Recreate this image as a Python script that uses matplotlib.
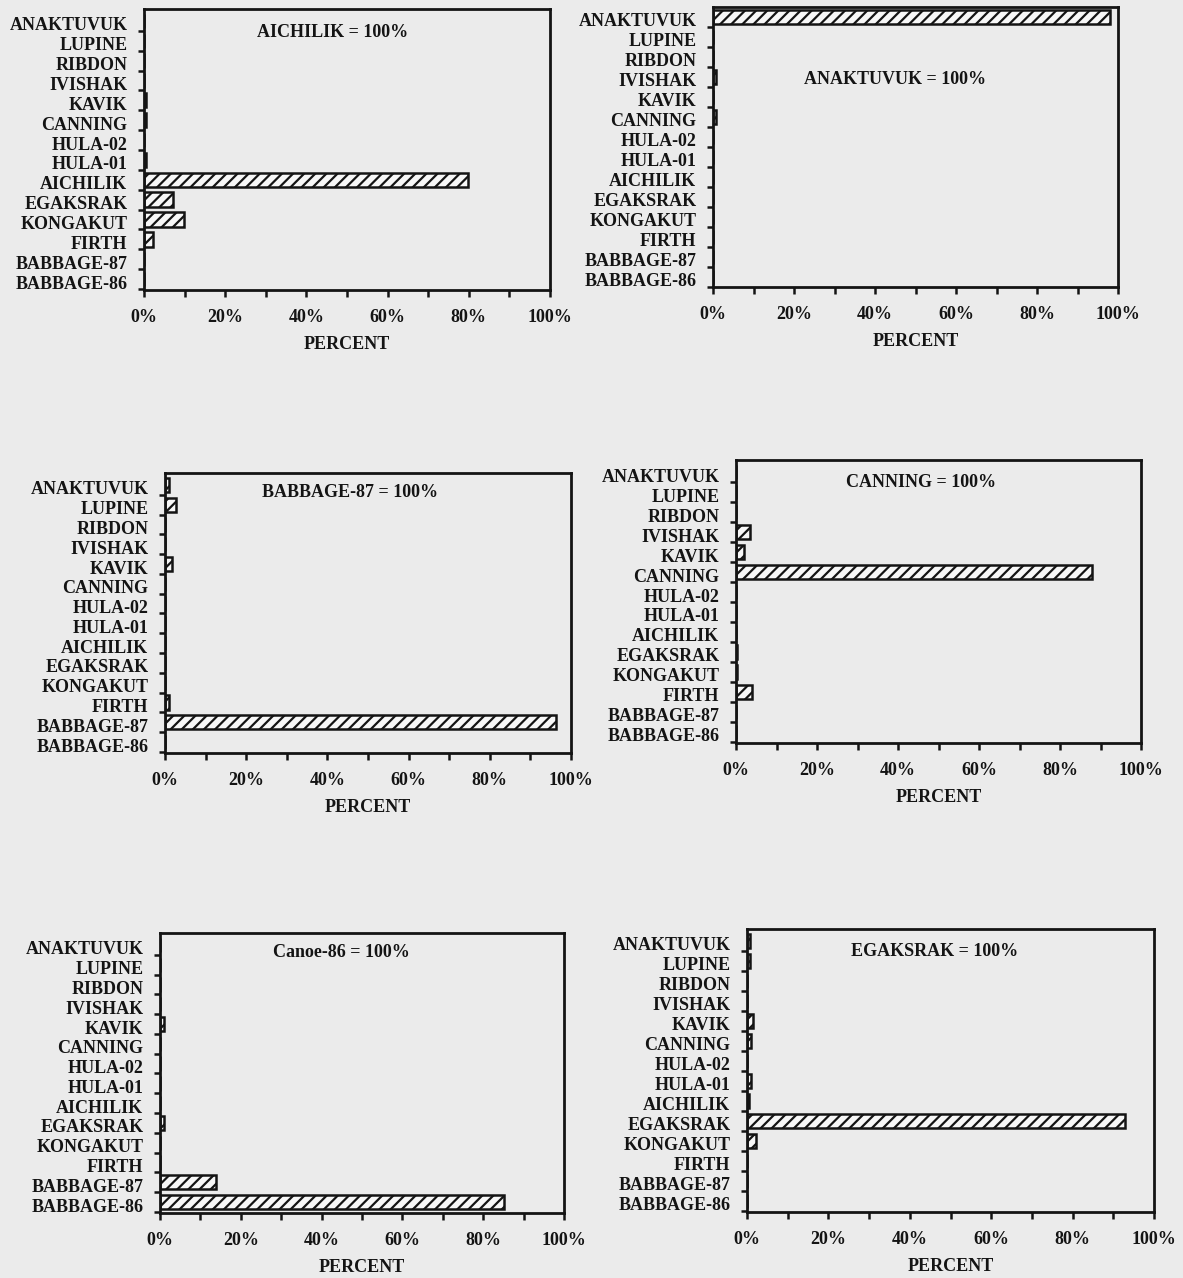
import matplotlib
matplotlib.use("Agg")
import matplotlib.pyplot as plt
import matplotlib.transforms as mtransforms
import numpy as np

# Stations, listed top to bottom on every panel
stations = ["ANAKTUVUK", "LUPINE", "RIBDON", "IVISHAK", "KAVIK", "CANNING",
            "HULA-02", "HULA-01", "AICHILIK", "EGAKSRAK", "KONGAKUT", "FIRTH",
            "BABBAGE-87", "BABBAGE-86"]

# Percent contribution of each station, one list per reference sample
aichilik   = [0, 0, 0, 0, 0.5, 0.5, 0, 0.5, 79.8, 7.1, 9.9, 2.2, 0, 0]
anaktuvuk  = [98.0, 0, 0, 0.8, 0, 0.8, 0, 0, 0, 0, 0, 0, 0, 0]
babbage87  = [1.0, 2.8, 0, 0, 1.8, 0, 0, 0, 0, 0, 0, 0.9, 96.2, 0]
canning    = [0, 0, 0, 3.5, 2.0, 87.9, 0, 0, 0, 0.3, 0.3, 3.9, 0, 0]
canoe86    = [0, 0, 0, 0, 1.0, 0, 0, 0, 0, 1.0, 0, 0, 13.9, 85.1]
egaksrak   = [0.7, 0.8, 0, 0, 1.5, 1.0, 0, 1.0, 0.5, 92.9, 2.3, 0, 0, 0]

titles = ["AICHILIK = 100%", "ANAKTUVUK = 100%", "BABBAGE-87 = 100%",
          "CANNING = 100%", "Canoe-86 = 100%", "EGAKSRAK = 100%"]
series = [aichilik, anaktuvuk, babbage87, canning, canoe86, egaksrak]

xticks = [0, 20, 40, 60, 80, 100]
xticklabels = ["0%", "20%", "40%", "60%", "80%", "100%"]

W, H = 1183, 1278
DPI = 100
BG = "#ebebeb"
INK = "#141414"

plt.rcParams["font.family"] = ["Liberation Serif", "DejaVu Serif"]
plt.rcParams["font.weight"] = "bold"
plt.rcParams["hatch.linewidth"] = 1.6
plt.rcParams["hatch.color"] = INK

fig = plt.figure(figsize=(W / DPI, H / DPI), dpi=DPI, facecolor=BG)

# Panel frames in pixels: left, right, top, bottom
frames = [(144, 550, 9, 290), (713, 1118, 7, 287),
          (165, 571, 473, 753), (736, 1141, 460, 743),
          (160, 564, 933, 1213), (747, 1154, 929, 1212)]
title_pos = [(0.465, 0.918), (0.45, 0.74), (0.456, 0.929),
             (0.457, 0.922), (0.45, 0.929), (0.462, 0.922)]
ylims = [(-0.55, 13.6), (-0.5, 13.5), (-0.55, 13.6),
         (-0.55, 13.6), (-0.55, 13.6), (-0.55, 13.6)]

n = len(stations)
ypos = np.arange(n)[::-1]  # first station at the top

for vals, title, (l, r, t, b), (tx, ty), ylim in zip(series, titles, frames, title_pos, ylims):
    ax = fig.add_axes([l / W, 1 - b / H, (r - l) / W, (b - t) / H])
    ax.set_facecolor(BG)
    ax.barh(ypos, vals, height=0.72, color="#f7f7f7", edgecolor=INK,
            linewidth=1.8, hatch="///")
    ax.set_xlim(0, 100)
    ax.set_ylim(*ylim)

    ax.set_xticks(xticks)
    ax.set_xticklabels(xticklabels)
    ax.set_xticks(np.arange(10, 100, 20), minor=True)
    ax.tick_params(axis="x", which="both", direction="out", length=5,
                   width=1.8, color=INK, labelsize=13, labelcolor=INK, pad=9)

    ax.set_yticks(ypos)
    ax.set_yticklabels(stations)
    ax.set_yticks(np.arange(-0.5, n - 1, 1.0), minor=True)
    ax.tick_params(axis="y", which="major", length=0, pad=12,
                   labelsize=13, labelcolor=INK)
    ax.tick_params(axis="y", which="minor", direction="out", length=4,
                   width=1.8, color=INK)
    shift = mtransforms.ScaledTranslation(0, -3 / DPI, fig.dpi_scale_trans)
    for lab in ax.get_yticklabels():
        lab.set_transform(lab.get_transform() + shift)

    for sp in ax.spines.values():
        sp.set_linewidth(2.0)
        sp.set_color(INK)

    ax.set_xlabel("PERCENT", fontsize=13, fontweight="bold", color=INK, labelpad=7)
    ax.text(tx, ty, title, transform=ax.transAxes, ha="center", va="center",
            fontsize=13, fontweight="bold", color=INK)

fig.savefig("out.png", dpi=DPI, facecolor=BG)
